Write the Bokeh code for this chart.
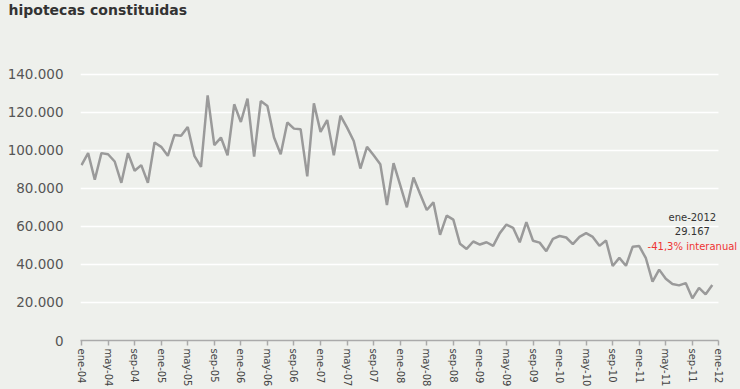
from bokeh.plotting import figure
from bokeh.models import FixedTicker, CustomJSTickFormatter, Label
from bokeh.embed import file_html
from bokeh.resources import INLINE

# 96 monthly points, drawn at positions 0..95 (labels every 4 positions)
months = list(range(96))
hipotecas = [
    92300, 98600, 84600, 98600, 98000, 94200, 83000, 98600, 89300, 92300, 83000, 104200,
    101900, 97200, 108200, 107700, 112400, 97200, 91400, 129000, 102800, 106800, 97500, 124300,
    115000, 127300, 96800, 126000, 123400, 106800, 98000, 114700, 111500, 111200, 86400, 124800,
    109800, 116000, 97500, 118300, 112000, 105000, 90500, 101900, 97500, 92800, 71300, 93300,
    81800, 70100, 85800, 77100, 68700, 72700, 55600, 65700, 63600, 50900, 48200, 52100,
    50500, 51700, 49800, 56500, 61000, 59300, 51700, 62300, 52500, 51500, 47000, 53500,
    55000, 54200, 50700, 54500, 56500, 54500, 49800, 52600, 39200, 43500, 39300, 49300,
    49700, 43300, 31000, 37300, 32500, 29700, 29000, 30200, 22200, 27700, 24300, 29167,
]
tick_positions = list(range(0, 97, 4))
tick_labels = [
    "ene-04", "may-04", "sep-04", "ene-05", "may-05", "sep-05", "ene-06", "may-06", "sep-06",
    "ene-07", "may-07", "sep-07", "ene-08", "may-08", "sep-08", "ene-09", "may-09", "sep-09",
    "ene-10", "may-10", "sep-10", "ene-11", "may-11", "sep-11", "ene-12",
]
y_ticks = [0, 20000, 40000, 60000, 80000, 100000, 120000, 140000]

BG = "#eef0ec"
FONT = "DejaVu Sans"

p = figure(width=740, height=389, output_backend="svg", toolbar_location=None,
           x_range=(-0.15, 99.25), y_range=(0, 168400),
           min_border_left=80, min_border_right=0, min_border_top=0, min_border_bottom=30,
           title="hipotecas constituidas")
p.background_fill_color = BG
p.border_fill_color = BG
p.outline_line_color = None

p.title.text_font = FONT
p.title.text_font_size = "14px"
p.title.text_font_style = "bold"
p.title.text_color = "#333333"
p.title.align = "left"
p.title.vertical_align = "top"
p.title.offset = -72
p.title.standoff = 2

p.line(months, hipotecas, line_color="#9a9a9a", line_width=2.5)

# x axis
xa = p.xaxis[0]
xa.ticker = FixedTicker(ticks=tick_positions)
xa.major_label_overrides = {t: l for t, l in zip(tick_positions, tick_labels)}
xa.major_label_orientation = "vertical"
xa.major_label_text_font = FONT
xa.major_label_text_font_size = "10px"
xa.major_label_text_color = "#444444"
xa.major_label_standoff = 3
xa.axis_line_color = "#aaaaaa"
xa.axis_line_width = 1.5
xa.major_tick_line_color = "#aaaaaa"
xa.major_tick_line_width = 1.5
xa.major_tick_in = 0
xa.major_tick_out = 5
xa.minor_tick_line_color = None
xa.bounds = (-0.15, 96)

# y axis
ya = p.yaxis[0]
ya.ticker = FixedTicker(ticks=y_ticks)
ya.formatter = CustomJSTickFormatter(code="""
    if (tick == 0) { return "0"; }
    return (tick / 1000).toFixed(0) + ".000";
""")
ya.major_label_text_font = FONT
ya.major_label_text_font_size = "13.5px"
ya.major_label_text_color = "#555555"
ya.major_label_standoff = 17
ya.major_tick_out = 0
ya.major_tick_in = 0
ya.axis_line_color = None
ya.major_tick_line_color = None
ya.minor_tick_line_color = None

p.xgrid.grid_line_color = None
p.ygrid.grid_line_color = "#ffffff"
p.ygrid.grid_line_width = 1.5
p.ygrid.ticker = FixedTicker(ticks=y_ticks)
p.ygrid.cross_bounds = (-0.15, 96)

for txt, yv, col in [("ene-2012", 64700, "#333333"),
                     ("29.167", 57400, "#333333"),
                     ("-41,3% interanual", 49500, "#ee3333")]:
    p.add_layout(Label(x=92.0, y=yv, text=txt, text_align="center", text_baseline="middle",
                       text_font=FONT, text_font_size="10px", text_color=col))

html = file_html(p, INLINE)
html = html.replace("<head>", "<head><style>html,body{background:%s;}</style>" % BG, 1)
open("out.html", "w").write(html)
